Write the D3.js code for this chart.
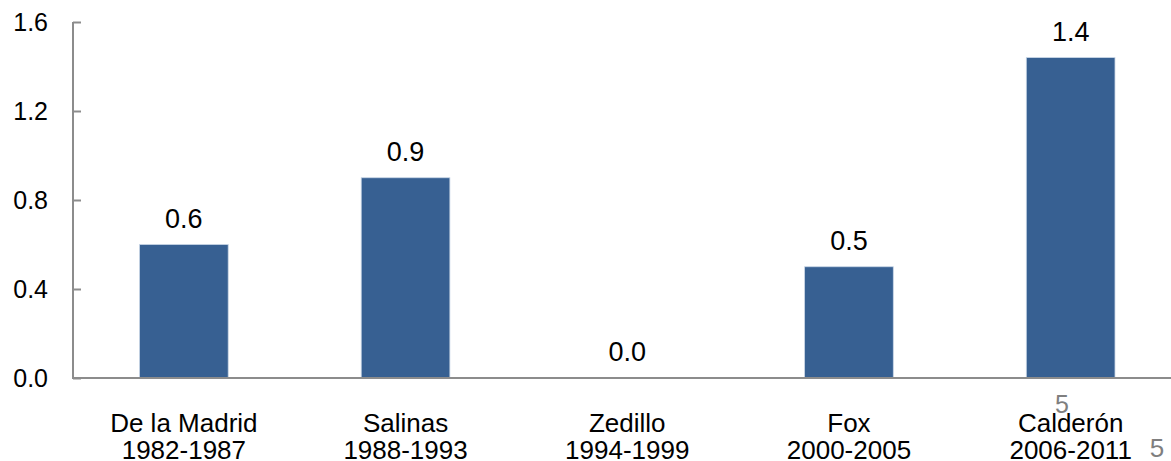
<!DOCTYPE html>
<html>
<head>
<meta charset="utf-8">
<script src="https://cdn.jsdelivr.net/npm/d3@7"></script>
<style>
  html, body { margin: 0; padding: 0; background: #fff; }
  svg { display: block; }
  text { font-family: "Liberation Sans", Arial, sans-serif; }
</style>
</head>
<body>
<svg id="chart" width="1171" height="461"></svg>
<script>
const presidents = ["De la Madrid", "Salinas", "Zedillo", "Fox", "Calderón"];
const periods = ["1982-1987", "1988-1993", "1994-1999", "2000-2005", "2006-2011"];
const values = [0.6, 0.9, 0.0, 0.5, 1.44];
const valueLabels = ["0.6", "0.9", "0.0", "0.5", "1.4"];
const yTicks = [0, 0.4, 0.8, 1.2, 1.6];

const svg = d3.select("#chart");
const plotLeft = 73, plotRight = 1181.5, plotTop = 22, plotBottom = 378;

const x = d3.scaleBand().domain(presidents).range([plotLeft, plotRight]).paddingInner(0.6).paddingOuter(0.3);
const y = d3.scaleLinear().domain([0, 1.6]).range([plotBottom, plotTop]);

// bars
svg.selectAll("rect.bar").data(values).join("rect")
  .attr("class", "bar")
  .attr("x", (d, i) => x(presidents[i]))
  .attr("width", x.bandwidth())
  .attr("y", d => y(d))
  .attr("height", d => y(0) - y(d))
  .attr("fill", "#376092")
  .attr("stroke", "#c9d6e6")
  .attr("stroke-width", 0.8);

// y axis
const yAxis = d3.axisLeft(y).tickValues(yTicks).tickFormat(d3.format(".1f")).tickSize(-8).tickPadding(25);
const gy = svg.append("g").attr("transform", `translate(${plotLeft},0)`).call(yAxis);
gy.select(".domain").attr("stroke", "#8c8c8c").attr("stroke-width", 2).attr("d", `M0,${plotTop}V${plotBottom}`);
gy.selectAll(".tick line").attr("stroke", "#8c8c8c").attr("stroke-width", 2);
gy.selectAll(".tick text").attr("font-size", 25).attr("fill", "#000")
  .attr("font-family", "'Liberation Sans', Arial, sans-serif");

// x axis
const xAxis = d3.axisBottom(x).tickSize(0).tickFormat("");
const gx = svg.append("g").attr("transform", `translate(0,${plotBottom})`).call(xAxis);
gx.select(".domain").attr("stroke", "#8c8c8c").attr("stroke-width", 2).attr("d", `M${plotLeft - 1},0H1171`);

// category labels
const cat = svg.append("g");
presidents.forEach((p, i) => {
  const cx = x(p) + x.bandwidth() / 2;
  const t = cat.append("text").attr("x", cx).attr("text-anchor", "middle")
    .attr("font-size", 26).attr("fill", "#000");
  t.append("tspan").attr("x", cx).attr("y", 431.5).text(p);
  t.append("tspan").attr("x", cx).attr("y", 458.5).text(periods[i]);
});

// value labels
svg.selectAll("text.val").data(values).join("text")
  .attr("class", "val")
  .attr("x", (d, i) => x(presidents[i]) + x.bandwidth() / 2)
  .attr("y", d => y(d) - 17)
  .attr("text-anchor", "middle")
  .attr("font-size", 27)
  .attr("fill", "#000")
  .text((d, i) => valueLabels[i]);

// slide number artifacts
svg.append("text").attr("x", 1062).attr("y", 413).attr("text-anchor", "middle")
  .attr("font-size", 25).attr("fill", "#7f7f7f").text("5");
svg.append("text").attr("x", 1157).attr("y", 457).attr("text-anchor", "middle")
  .attr("font-size", 26).attr("fill", "#7f7f7f").text("5");
</script>
</body>
</html>
